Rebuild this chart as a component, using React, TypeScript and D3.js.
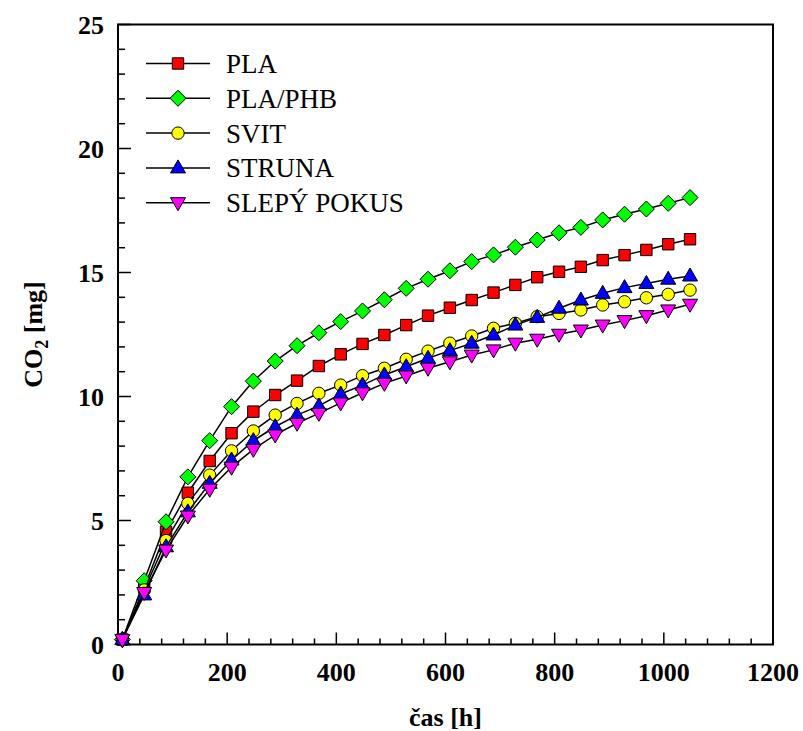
import React from "react";
import * as d3 from "d3";

const times = [8, 48, 88, 128, 168, 208, 248, 288, 328, 368, 408, 448, 488, 528, 568, 608, 648, 688, 728, 768, 808, 848, 888, 928, 968, 1008, 1048];

const pla = [0.2, 2.3, 4.55, 6.12, 7.4, 8.52, 9.39, 10.06, 10.64, 11.23, 11.7, 12.12, 12.48, 12.88, 13.26, 13.58, 13.89, 14.19, 14.5, 14.81, 15.03, 15.23, 15.5, 15.7, 15.91, 16.14, 16.34];
const plaPhb = [0.2, 2.57, 4.95, 6.76, 8.22, 9.59, 10.62, 11.43, 12.05, 12.57, 13.02, 13.45, 13.9, 14.36, 14.73, 15.07, 15.44, 15.71, 16.02, 16.31, 16.6, 16.82, 17.12, 17.35, 17.56, 17.79, 18.02];
const svit = [0.2, 2.2, 4.19, 5.69, 6.83, 7.81, 8.61, 9.25, 9.72, 10.13, 10.46, 10.84, 11.14, 11.5, 11.83, 12.15, 12.44, 12.75, 12.95, 13.22, 13.35, 13.49, 13.69, 13.82, 13.98, 14.12, 14.29];
const struna = [0.2, 2.0, 3.94, 5.35, 6.5, 7.44, 8.22, 8.78, 9.25, 9.62, 10.1, 10.46, 10.87, 11.2, 11.54, 11.85, 12.15, 12.48, 12.88, 13.19, 13.56, 13.89, 14.16, 14.39, 14.56, 14.73, 14.86];
const slepy = [0.2, 2.1, 3.81, 5.18, 6.26, 7.15, 7.87, 8.45, 8.92, 9.32, 9.74, 10.15, 10.53, 10.83, 11.14, 11.4, 11.67, 11.88, 12.15, 12.31, 12.51, 12.68, 12.88, 13.06, 13.26, 13.49, 13.72];

const seriesNames = ["PLA", "PLA/PHB", "SVIT", "STRUNA", "SLEPÝ POKUS"];
const seriesColors = ["#ff0000", "#00ff00", "#ffff00", "#0000ff", "#ff00ff"];
const seriesShapes = ["square", "diamond", "circle", "triangle", "triangleDown"];
const seriesValues = [pla, plaPhb, svit, struna, slepy];

const xTicks = [0, 200, 400, 600, 800, 1000, 1200];
const yTicks = [0, 5, 10, 15, 20, 25];

const W = 803;
const H = 731;
const left = 118;
const right = 773;
const top = 24.5;
const bottom = 644.5;

function markerPath(shape: string): string {
  switch (shape) {
    case "square":
      return d3.symbol(d3.symbolSquare, 130)() as string;
    case "diamond":
      return "M0,-8L8,0L0,8L-8,0Z";
    case "circle":
      return d3.symbol(d3.symbolCircle, 120)() as string;
    case "triangle":
      return "M0,-8L7.5,5L-7.5,5Z";
    case "triangleDown":
      return "M0,8L7.5,-5L-7.5,-5Z";
  }
  return "";
}

export default function App() {
  const x = d3.scaleLinear().domain([0, 1200]).range([left, right]);
  const y = d3.scaleLinear().domain([0, 25]).range([bottom, top]);
  const line = d3
    .line<[number, number]>()
    .x((d) => x(d[0]))
    .y((d) => y(d[1]));

  const xMinor = d3.range(0, 1201, 40);
  const yMinor = d3.range(0, 25.01, 1);
  const font = "'Liberation Serif', 'Times New Roman', serif";

  return (
    <svg
      width={W}
      height={H}
      style={{ position: "absolute", left: 0, top: 0, background: "#fff" }}
      fontFamily={font}
    >
      <rect x={0} y={0} width={W} height={H} fill="#fff" />
      {/* ticks */}
      {xMinor.map((t) => {
        const major = t % 200 === 0;
        return (
          <line
            key={"xt" + t}
            x1={x(t)}
            x2={x(t)}
            y1={bottom}
            y2={bottom - (major ? 12 : 6)}
            stroke="#000"
            strokeWidth={1.5}
          />
        );
      })}
      {yMinor.map((t) => {
        const major = Math.round(t) % 5 === 0;
        return (
          <line
            key={"yt" + t}
            x1={left}
            x2={left + (major ? 13 : 7)}
            y1={y(t)}
            y2={y(t)}
            stroke="#000"
            strokeWidth={1.5}
          />
        );
      })}
      {/* frame */}
      <rect
        x={left}
        y={top}
        width={right - left}
        height={bottom - top}
        fill="none"
        stroke="#000"
        strokeWidth={2}
      />
      {/* tick labels */}
      {xTicks.map((t) => (
        <text
          key={"xl" + t}
          x={x(t)}
          y={681}
          textAnchor="middle"
          fontWeight="bold"
          fontSize={26}
        >
          {t}
        </text>
      ))}
      {yTicks.map((t) => (
        <text
          key={"yl" + t}
          x={104}
          y={y(t) + 9}
          textAnchor="end"
          fontWeight="bold"
          fontSize={26}
        >
          {t}
        </text>
      ))}
      {/* axis titles */}
      <text x={(left + right) / 2} y={726} textAnchor="middle" fontWeight="bold" fontSize={26}>
        čas [h]
      </text>
      <text
        transform={`translate(42,${(top + bottom) / 2}) rotate(-90)`}
        textAnchor="middle"
        fontWeight="bold"
        fontSize={26}
      >
        CO
        <tspan fontSize={18} dy={6}>2</tspan>
        <tspan dy={-6}> [mg]</tspan>
      </text>
      {/* series */}
      {seriesValues.map((vals, si) => {
        const pts: [number, number][] = times.map((t, i) => [t, vals[i]]);
        return (
          <g key={"s" + si}>
            <path d={line(pts) as string} fill="none" stroke="#000" strokeWidth={1.5} />
            {pts.map((p, i) => (
              <path
                key={i}
                d={markerPath(seriesShapes[si])}
                transform={`translate(${x(p[0])},${y(p[1])})`}
                fill={seriesColors[si]}
                stroke="#000"
                strokeWidth={1}
              />
            ))}
          </g>
        );
      })}
      {/* legend */}
      {seriesNames.map((name, i) => {
        const ly = 63.5 + i * 34.8;
        return (
          <g key={"lg" + i}>
            <line x1={146} x2={210} y1={ly} y2={ly} stroke="#000" strokeWidth={1.5} />
            <path
              d={markerPath(seriesShapes[i])}
              transform={`translate(178,${ly})`}
              fill={seriesColors[i]}
              stroke="#000"
              strokeWidth={1}
            />
            <text x={226} y={ly + 9.5} fontSize={27}>
              {name}
            </text>
          </g>
        );
      })}
    </svg>
  );
}
